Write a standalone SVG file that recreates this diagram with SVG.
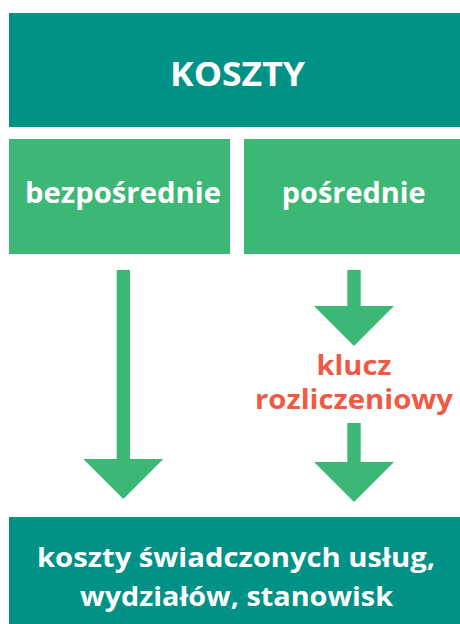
<svg xmlns="http://www.w3.org/2000/svg" width="460" height="624" viewBox="0 0 460 624">
<style>
.teal{fill:#009286}
.green{fill:#3cb775}
.t{font-family:"Open Sans","Liberation Sans",sans-serif;font-weight:bold;fill:#ffffff;text-anchor:middle}
.r{font-family:"Open Sans","Liberation Sans",sans-serif;font-weight:bold;fill:#ef5a45;text-anchor:middle;font-size:26px}
</style>
<rect width="460" height="624" fill="#ffffff"/>
<g id="koszty">
<rect class="teal" x="9" y="13" width="451" height="114"/>
<text class="t" x="237.5" y="86" font-size="34" textLength="135" lengthAdjust="spacingAndGlyphs">KOSZTY</text>
</g>
<g id="bezposrednie">
<rect class="green" x="9" y="139" width="221" height="115"/>
<text class="t" x="123" y="203" font-size="29" textLength="196" lengthAdjust="spacingAndGlyphs">bezpośrednie</text>
</g>
<g id="posrednie">
<rect class="green" x="244" y="139" width="216" height="115"/>
<text class="t" x="353.7" y="203" font-size="29" textLength="144" lengthAdjust="spacingAndGlyphs">pośrednie</text>
</g>
<g id="wynik">
<rect class="teal" x="9" y="517" width="451" height="107"/>
<text class="t" x="236" y="567" font-size="27" textLength="398" lengthAdjust="spacingAndGlyphs">koszty świadczonych usług,</text>
<text class="t" x="236.5" y="606" font-size="27" textLength="313" lengthAdjust="spacingAndGlyphs">wydziałów, stanowisk</text>
</g>
<g id="klucz">
<text class="r" x="354" y="375" textLength="75" lengthAdjust="spacingAndGlyphs">klucz</text>
<text class="r" x="354" y="409" textLength="198" lengthAdjust="spacingAndGlyphs">rozliczeniowy</text>
</g>
<g id="connectors">
<polygon class="green" points="116.7,270 130,270 130,459 163.3,459 123.3,499 83.3,459 116.7,459"/>
<polygon class="green" points="347.3,270 360.7,270 360.7,306 394,306 354,346 314,306 347.3,306"/>
<polygon class="green" points="347.3,423 360.7,423 360.7,462 394,462 354,502 314,462 347.3,462"/>
</g>
</svg>
